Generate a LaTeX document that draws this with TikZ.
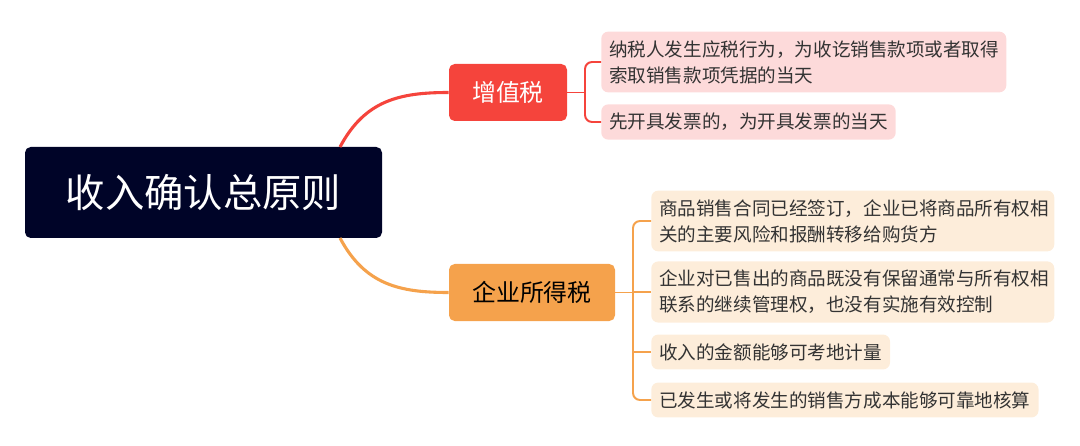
\documentclass[tikz,border=0pt]{standalone}
\usepackage{fontspec}
\setmainfont{Noto Sans CJK SC}
\usetikzlibrary{positioning}
\definecolor{rootcol}{HTML}{000428}
\definecolor{vatcol}{HTML}{F5443C}
\definecolor{citcol}{HTML}{F5A24C}
\definecolor{vatleaf}{HTML}{FDDADA}
\definecolor{citleaf}{HTML}{FDEDDA}
\definecolor{leaftext}{HTML}{333333}
\tikzset{rootStyle/.style={rectangle, rounded corners=4pt, fill=rootcol, text=white, inner sep=0pt, minimum width=357*0.025cm, minimum height=91*0.025cm, font=\fontsize{28}{32}\selectfont}}
\tikzset{branchStyle/.style={rectangle, rounded corners=4pt, inner sep=0pt, minimum height=57*0.025cm, font=\fontsize{17}{20}\selectfont}}
\tikzset{leafStyle/.style={rectangle, rounded corners=5pt, anchor=west, text=leaftext, align=left, inner xsep=0.2cm, inner ysep=0.22cm, font=\fontsize{13.2}{18.4}\selectfont}}
\tikzset{vatLine/.style={draw=vatcol, line width=1.4pt}, citLine/.style={draw=citcol, line width=1.4pt}}
\begin{document}
\begin{tikzpicture}[x=0.025cm, y=-0.025cm]
  \useasboundingbox (0,0) rectangle (1080,446);
  % nodes
  \node at (203.5, 192.5) [rootStyle] (root){收入确认总原则};
  \node at (508, 92.5) [branchStyle, fill=vatcol, text=white, minimum width=118*0.025cm] (vat){增值税};
  \node at (532, 292.5) [branchStyle, fill=citcol, text=black, minimum width=166*0.025cm] (cit){企业所得税};
  \node at (601, 62) [leafStyle, fill=vatleaf, text width=389*0.025cm] (v1){纳税人发生应税行为，为收讫销售款项或者取得\\索取销售款项凭据的当天};
  \node at (601, 122) [leafStyle, fill=vatleaf] (v2){先开具发票的，为开具发票的当天};
  \node at (651, 221) [leafStyle, fill=citleaf, text width=387*0.025cm] (c1){商品销售合同已经签订，企业已将商品所有权相\\关的主要风险和报酬转移给购货方};
  \node at (651, 292) [leafStyle, fill=citleaf, text width=387*0.025cm] (c2){企业对已售出的商品既没有保留通常与所有权相\\联系的继续管理权，也没有实施有效控制};
  \node at (651, 352) [leafStyle, fill=citleaf] (c3){收入的金额能够可考地计量};
  \node at (651, 400) [leafStyle, fill=citleaf] (c4){已发生或将发生的销售方成本能够可靠地核算};
  \coordinate (rootTop) at (340, 147);
  \coordinate (rootBot) at (340, 238);
  \coordinate (vatJoin) at (585, 92.5);
  \coordinate (citJoin) at (633, 292.5);

  % lines
  \draw [draw=vatcol, line width=2.2pt] (rootTop) .. controls (365, 100) and (400, 92.5) .. (vat.west);
  \draw [draw=citcol, line width=2.2pt] (rootBot) .. controls (365, 285) and (400, 292.5) .. (cit.west);
  \draw [vatLine] (vat.east) -- (vatJoin);
  \draw [vatLine, rounded corners=5pt] (v1.west) -| (vatJoin) |- (v2.west);
  \draw [citLine] (cit.east) -- (citJoin);
  \draw [citLine, rounded corners=5pt] (c1.west) -| (citJoin) |- (c4.west);
  \draw [citLine] (c2.west) -- (c2.west -| citJoin);
  \draw [citLine] (c3.west) -- (c3.west -| citJoin);
\end{tikzpicture}
\end{document}
